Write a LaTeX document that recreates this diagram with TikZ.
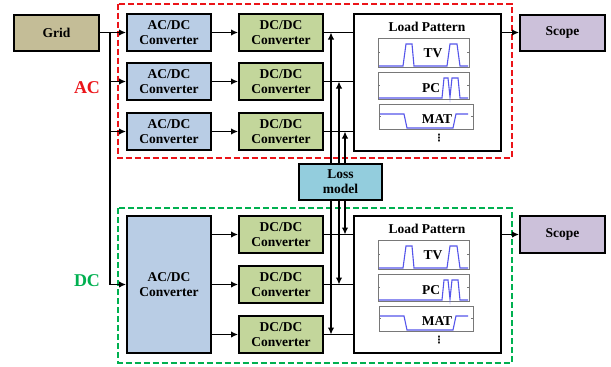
\documentclass[tikz,border=0pt]{standalone}
\usepackage{fontspec}
\setmainfont{Liberation Serif}
\newfontfamily\dejavu{DejaVu Sans}
\usetikzlibrary{arrows.meta,calc}
\definecolor{gridc}{RGB}{196,189,151}
\definecolor{acdcc}{RGB}{185,205,229}
\definecolor{dcdcc}{RGB}{195,214,155}
\definecolor{scopec}{RGB}{204,193,218}
\definecolor{lossc}{RGB}{147,205,221}
\definecolor{redc}{RGB}{235,20,25}
\definecolor{greenc}{RGB}{0,176,80}
\definecolor{wavec}{RGB}{85,85,235}
\definecolor{panelc}{RGB}{120,120,120}
\tikzset{
  blk/.style={draw=black, line width=2pt, inner sep=0pt, align=center,
    font=\fontsize{13.5}{15}\selectfont\bfseries},
  arr/.style={line width=1.8pt, -{Latex[length=7pt,width=6.5pt]}},
  ln/.style={line width=1.8pt},
  dashbox/.style={line width=2pt, dash pattern=on 6pt off 3pt},
  panel/.style={draw=panelc, line width=0.9pt},
  wave/.style={draw=wavec, line width=1.1pt},
  lbl/.style={font=\fontsize{13.5}{15}\selectfont\bfseries, inner sep=0pt},
}
\begin{document}
\begin{tikzpicture}[x=1pt,y=-1pt]
\useasboundingbox (0,0) rectangle (611,367);
% dashed groups
\draw[dashbox, draw=redc] (118,3.5) rectangle (511.5,158);
\draw[dashbox, draw=greenc] (118,208) rectangle (511.5,362.5);
\node[lbl, text=redc, font=\fontsize{18}{20}\selectfont\bfseries] (aclbl) at (87,88) {AC};
\node[lbl, text=greenc, font=\fontsize{18}{20}\selectfont\bfseries] (dclbl) at (87,281) {DC};
% grid
\node[blk, fill=gridc, minimum width=85, minimum height=36] (grid) at (56.5,32.5) {Grid};
% AC section
\node[blk, fill=acdcc, minimum width=84, minimum height=37] (a1) at (169,32.5) {AC/DC\\Converter};
\node[blk, fill=acdcc, minimum width=84, minimum height=37] (a2) at (169,81.5) {AC/DC\\Converter};
\node[blk, fill=acdcc, minimum width=84, minimum height=37] (a3) at (169,131.5) {AC/DC\\Converter};
\node[blk, fill=dcdcc, minimum width=84, minimum height=37] (d1) at (281,32.5) {DC/DC\\Converter};
\node[blk, fill=dcdcc, minimum width=84, minimum height=37] (d2) at (281,81.5) {DC/DC\\Converter};
\node[blk, fill=dcdcc, minimum width=84, minimum height=37] (d3) at (281,131.5) {DC/DC\\Converter};
\node[blk, fill=white, minimum width=147, minimum height=137] (lp1) at (427.5,82.5) {};
\node[blk, fill=scopec, minimum width=85, minimum height=36] (s1) at (562.5,32.5) {Scope};
% DC section
\node[blk, fill=acdcc, minimum width=84, minimum height=137] (big) at (169,284.5) {AC/DC\\Converter};
\node[blk, fill=dcdcc, minimum width=84, minimum height=37] (e1) at (281,234.5) {DC/DC\\Converter};
\node[blk, fill=dcdcc, minimum width=84, minimum height=37] (e2) at (281,284.5) {DC/DC\\Converter};
\node[blk, fill=dcdcc, minimum width=84, minimum height=37] (e3) at (281,334.5) {DC/DC\\Converter};
\node[blk, fill=white, minimum width=147, minimum height=137] (lp2) at (427.5,284.5) {};
\node[blk, fill=scopec, minimum width=85, minimum height=37] (s2) at (562.5,234.5) {Scope};
% loss model
\node[blk, fill=lossc, minimum width=83, minimum height=36] (loss) at (340.5,182) {Loss\\model};
% load pattern contents
\foreach \dy/\nm in {0/u, 202/l} {
\begin{scope}[yshift=-\dy pt]
  \node[lbl] (title\nm) at (427,27) {Load Pattern};
  \draw[panel] (378,38) rectangle (469,67);
  \draw[panel] (378,38+14.5) -- ++(2,0) (469,38+14.5) -- ++(-2,0);
  \draw[wave] (379,66) -- (403,66) -- (406,44) -- (412,44) -- (414,66) -- (447,66) -- (450,44) -- (457,44) -- (460,66) -- (468,66);
  \node[lbl] (tv\nm) at (433,53) {TV};
  \draw[panel] (378,72) rectangle (469,99);
  \draw[panel] (378,85.5) -- ++(2,0) (469,85.5) -- ++(-2,0);
  \draw[wave] (379,98) -- (442,98) -- (444,78) -- (448,78) -- (450,97) -- (452,78) -- (458,78) -- (460,98) -- (468,98);
  \node[lbl] (pc\nm) at (431,88) {PC};
  \draw[panel] (379,104) rectangle (473,129);
  \draw[panel] (379,116.5) -- ++(2,0) (473,116.5) -- ++(-2,0);
  \draw[wave] (380,114) -- (404,114) -- (407,128) -- (453,128) -- (456,114) -- (468,114);
  \node[lbl] (mat\nm) at (437,119) {MAT};
  \node[inner sep=0pt, font=\dejavu\bfseries\fontsize{10}{10}\selectfont] (dots\nm) at (439,138) {⋮};
\end{scope}
}
% grid feed
\coordinate (tr) at (110,32.5);
\draw[arr] (grid.east) -- (a1.west);
\draw[ln] (tr) -- (110,284.5);
\draw[arr] (tr |- a2.west) -- (a2.west);
\draw[arr] (tr |- a3.west) -- (a3.west);
\draw[arr] (tr |- big.west) -- (big.west);
% AC/DC -> DC/DC
\draw[arr] (a1.east) -- (d1.west);
\draw[arr] (a2.east) -- (d2.west);
\draw[arr] (a3.east) -- (d3.west);
\draw[arr] (big.east |- e1.west) -- (e1.west);
\draw[arr] (big.east |- e2.west) -- (e2.west);
\draw[arr] (big.east |- e3.west) -- (e3.west);
% DC/DC -> load pattern
\draw[ln] (d1.east) -- (d1.east -| lp1.west);
\draw[ln] (d2.east) -- (d2.east -| lp1.west);
\draw[ln] (d3.east) -- (d3.east -| lp1.west);
\draw[ln] (e1.east) -- (e1.east -| lp2.west);
\draw[ln] (e2.east) -- (e2.east -| lp2.west);
\draw[ln] (e3.east) -- (e3.east -| lp2.west);
% loss model feeds
\coordinate (u1) at (331,32.5);
\coordinate (u2) at (339,81.5);
\coordinate (u3) at (345,131.5);
\coordinate (v1) at (345,234.5);
\coordinate (v2) at (339,284.5);
\coordinate (v3) at (331,334.5);
\foreach \c in {u1,u2,u3} { \draw[arr] (\c |- loss.north) -- (\c); }
\foreach \c in {v1,v2,v3} { \draw[arr] (\c |- loss.south) -- (\c); }
% to scope
\draw[arr] (lp1.east |- s1.west) -- (s1.west);
\draw[arr] (lp2.east |- s2.west) -- (s2.west);
\end{tikzpicture}
\end{document}
